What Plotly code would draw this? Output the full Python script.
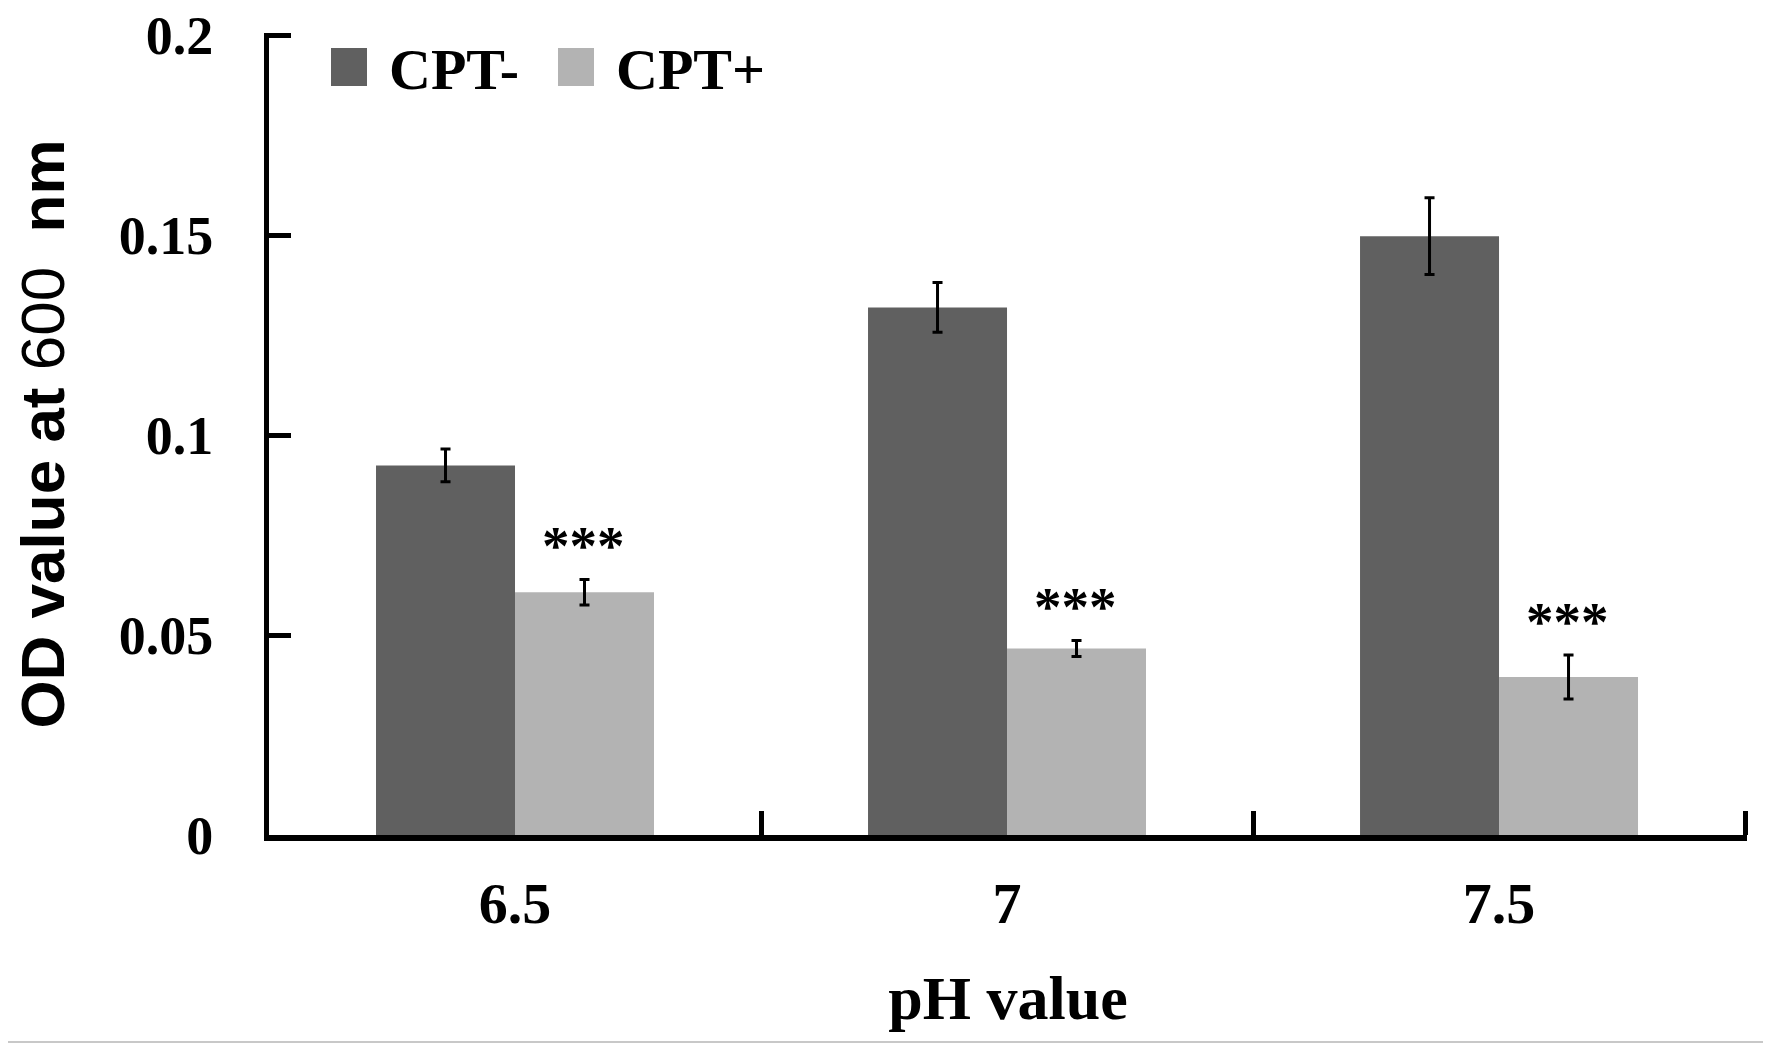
import plotly.graph_objects as go

# pH categories and OD600 readings (mean and error)
ph_values = ["6.5", "7", "7.5"]
cpt_minus = [0.0924, 0.1319, 0.1497]
cpt_minus_err = [0.0041, 0.0062, 0.0096]
cpt_plus = [0.0607, 0.0466, 0.0395]
cpt_plus_err = [0.0032, 0.0020, 0.0055]
significance = ["***", "***", "***"]

dark = "#606060"
light = "#b3b3b3"
serif = "Liberation Serif, Times New Roman, serif"

# plot box in figure pixels (used for the hand-placed legend)
L, T, W, H = 261, 25, 1478, 802

fig = go.Figure()
fig.add_trace(go.Bar(
    x=ph_values, y=cpt_minus, name="CPT-", marker=dict(color=dark, line=dict(width=0)),
    error_y=dict(type="data", array=cpt_minus_err, color="black", thickness=3, width=5),
))
fig.add_trace(go.Bar(
    x=ph_values, y=cpt_plus, name="CPT+", marker=dict(color=light, line=dict(width=0)),
    error_y=dict(type="data", array=cpt_plus_err, color="black", thickness=3, width=5),
))

# significance stars above the CPT+ bars (x given as category index)
for i, ph in enumerate(ph_values):
    fig.add_annotation(
        x=i + 0.14, y=cpt_plus[i] + cpt_plus_err[i] + 0.0085, text="<b>%s</b>" % significance[i],
        showarrow=False, yanchor="middle",
        font=dict(family=serif, size=55, color="black"),
    )

# hand-made legend (large swatches like the original)
legend_items = [("CPT-", dark, 323), ("CPT+", light, 550)]
for label, color, px in legend_items:
    fig.add_shape(type="rect", xref="paper", yref="paper",
                  x0=(px - L) / W, x1=(px + 36 - L) / W,
                  y0=(T + H - 78) / H, y1=(T + H - 40) / H,
                  fillcolor=color, line=dict(width=0))
    fig.add_annotation(xref="paper", yref="paper", x=(px + 56 - L) / W, y=(T + H - 62) / H,
                       text="<b>%s</b>" % label, showarrow=False, xanchor="left", yanchor="middle",
                       font=dict(family=serif, size=58, color="black"))

# faint frame line at the bottom of the picture
fig.add_shape(type="line", xref="paper", yref="paper", x0=-1, x1=2,
              y0=(T + H - 1034) / H, y1=(T + H - 1034) / H,
              line=dict(color="#c8c8c8", width=2))

fig.update_layout(
    width=1771, height=1044,
    margin=dict(l=L, r=1771 - L - W, t=T, b=1044 - T - H),
    paper_bgcolor="white", plot_bgcolor="white",
    barmode="group", bargap=0.435, bargroupgap=0,
    showlegend=False,
    font=dict(family=serif, color="black"),
    xaxis=dict(
        type="category", range=[-0.5, 2.504], automargin=False,
        tickson="boundaries", ticks="inside", ticklen=24, tickwidth=5,
        tickcolor="black", showline=True, linecolor="black", linewidth=6,
        showgrid=False, zeroline=False, ticklabelstandoff=12,
        tickfont=dict(family=serif, size=58, color="black"),
        tickvals=ph_values, ticktext=["<b>%s</b>" % p for p in ph_values],
        title=dict(text="<b>pH value</b>", standoff=43,
                   font=dict(family=serif, size=62, color="black")),
    ),
    yaxis=dict(
        range=[0, 0.2005], automargin=False, tickvals=[0, 0.05, 0.1, 0.15, 0.2],
        ticktext=["<b>0</b>", "<b>0.05</b>", "<b>0.1</b>", "<b>0.15</b>", "<b>0.2</b>"],
        ticks="inside", ticklen=22, tickwidth=5, tickcolor="black",
        showline=True, linecolor="black", linewidth=5,
        showgrid=False, zeroline=False, ticklabelstandoff=40, ticklabeloverflow="allow",
        tickfont=dict(family=serif, size=54, color="black"),
        title=dict(text="<b>OD value at</b> 600  <b>nm</b>", standoff=74,
                   font=dict(family="Liberation Sans, Arial, sans-serif", size=62, color="black")),
    ),
)

fig.write_html("out.html")
